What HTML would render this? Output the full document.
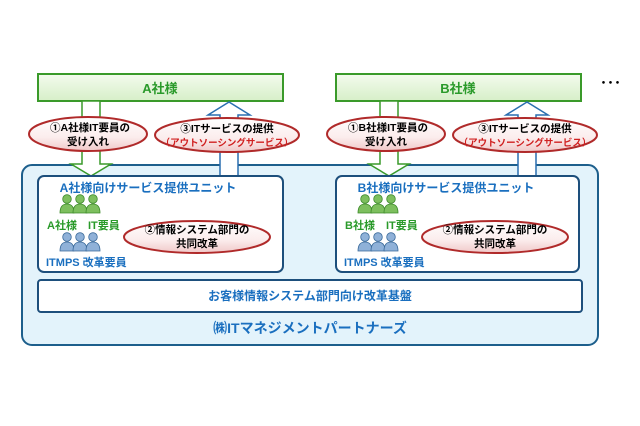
<!DOCTYPE html>
<html><head><meta charset="utf-8"><style>
html,body{margin:0;padding:0;background:#fff;width:640px;height:426px;overflow:hidden}
svg{display:block}
text{font-family:"Liberation Sans","Noto Sans CJK JP",sans-serif;font-weight:bold}
</style></head><body>
<svg width="640" height="426" viewBox="0 0 640 426">
<defs>
<linearGradient id="gg" x1="0" y1="0" x2="0" y2="1"><stop offset="0" stop-color="#f4fbee"/><stop offset="1" stop-color="#d6efc8"/></linearGradient>
<linearGradient id="eg" x1="0" y1="0" x2="0" y2="1"><stop offset="0" stop-color="#ffffff"/><stop offset="0.6" stop-color="#fbecec"/><stop offset="1" stop-color="#f0c8c8"/></linearGradient>
<g id="pg"><circle cx="0" cy="-6" r="4.3"/><path d="M-7 8 Q-7 -1 0 -1 Q7 -1 7 8 Z"/></g>
</defs>
<rect x="22" y="165" width="576" height="180" rx="10" fill="#e3f3fb" stroke="#1d5f8c" stroke-width="2"/>
<rect x="38" y="74" width="245" height="27" fill="url(#gg)" stroke="#3a9a2a" stroke-width="2"/>
<text x="160" y="93" font-size="13" fill="#2a9a2a" text-anchor="middle">A社様</text>
<rect x="336" y="74" width="245" height="27" fill="url(#gg)" stroke="#3a9a2a" stroke-width="2"/>
<text x="458" y="93" font-size="13" fill="#2a9a2a" text-anchor="middle">B社様</text>
<text x="600" y="88" font-size="14" fill="#000">･･･</text>
<path d="M82 101 H100 V164 H111 L91 176 L71 164 H82 Z" fill="#fff" stroke="#3a9a2a" stroke-width="1.5"/>
<path d="M220 176 V115 H208 L229 102 L250 115 H238 V176 Z" fill="#fff" stroke="#2a6fb0" stroke-width="1.5"/>
<path d="M380 101 H398 V164 H409 L389 176 L369 164 H380 Z" fill="#fff" stroke="#3a9a2a" stroke-width="1.5"/>
<path d="M518 176 V115 H506 L527 102 L548 115 H536 V176 Z" fill="#fff" stroke="#2a6fb0" stroke-width="1.5"/>
<rect x="38" y="176" width="245" height="96" rx="6" fill="#fff" stroke="#1d4f7c" stroke-width="2"/>
<rect x="336" y="176" width="243" height="96" rx="6" fill="#fff" stroke="#1d4f7c" stroke-width="2"/>
<text x="148" y="192" font-size="12" fill="#1a6fbf" text-anchor="middle">A社様向けサービス提供ユニット</text>
<text x="446" y="192" font-size="12" fill="#1a6fbf" text-anchor="middle">B社様向けサービス提供ユニット</text>
<g fill="#7dbf5e" stroke="#3d8a2a" stroke-width="0.8">
<use href="#pg" x="67" y="205"/><use href="#pg" x="80" y="205"/><use href="#pg" x="93" y="205"/>
<use href="#pg" x="365" y="205"/><use href="#pg" x="378" y="205"/><use href="#pg" x="391" y="205"/>
</g>
<g fill="#8fb1d8" stroke="#3a6a9a" stroke-width="0.8">
<use href="#pg" x="67" y="243"/><use href="#pg" x="80" y="243"/><use href="#pg" x="93" y="243"/>
<use href="#pg" x="365" y="243"/><use href="#pg" x="378" y="243"/><use href="#pg" x="391" y="243"/>
</g>
<text x="47" y="229" font-size="11" fill="#2a9a2a">A社様　IT要員</text>
<text x="345" y="229" font-size="11" fill="#2a9a2a">B社様　IT要員</text>
<text x="46" y="266" font-size="11" fill="#1a6fbf">ITMPS 改革要員</text>
<text x="344" y="266" font-size="11" fill="#1a6fbf">ITMPS 改革要員</text>
<g stroke="#b02a2a" stroke-width="2" fill="url(#eg)">
<ellipse cx="88" cy="134" rx="59" ry="17"/>
<ellipse cx="227" cy="135" rx="72" ry="17"/>
<ellipse cx="386" cy="134" rx="59" ry="17"/>
<ellipse cx="525" cy="135" rx="72" ry="17"/>
<ellipse cx="197" cy="237" rx="73" ry="16"/>
<ellipse cx="495" cy="237" rx="73" ry="16"/>
</g>
<g font-size="10.5" fill="#000" text-anchor="middle">
<text x="90" y="131">①A社様IT要員の</text><text x="88" y="145">受け入れ</text>
<text x="388" y="131">①B社様IT要員の</text><text x="386" y="145">受け入れ</text>
<text x="227" y="132">③ITサービスの提供</text>
<text x="525" y="132">③ITサービスの提供</text>
<text x="197" y="233">②情報システム部門の</text><text x="197" y="247">共同改革</text>
<text x="495" y="233">②情報システム部門の</text><text x="495" y="247">共同改革</text>
</g>
<g font-size="9.5" fill="#d02020" text-anchor="middle">
<text x="227" y="146">（アウトソーシングサービス）</text>
<text x="525" y="146">（アウトソーシングサービス）</text>
</g>
<rect x="38" y="280" width="544" height="32" rx="3" fill="#fff" stroke="#1d4f7c" stroke-width="2"/>
<text x="310" y="300" font-size="12" fill="#1a6fbf" text-anchor="middle">お客様情報システム部門向け改革基盤</text>
<text x="310" y="333" font-size="14" fill="#1a6fbf" text-anchor="middle">㈱ITマネジメントパートナーズ</text>
</svg>
</body></html>
